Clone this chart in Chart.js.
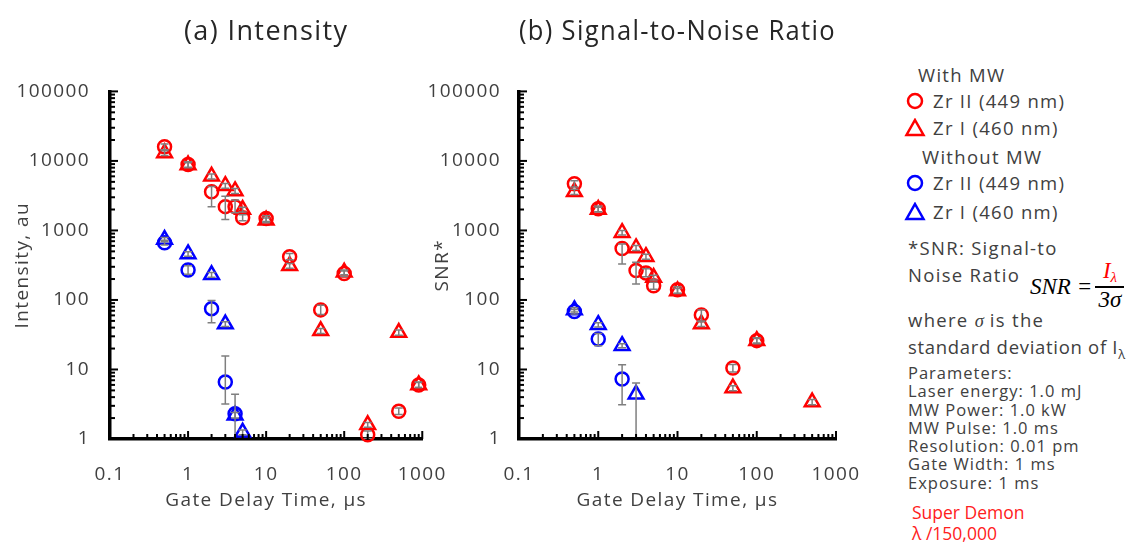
<!DOCTYPE html>
<html>
<head>
<meta charset="utf-8">
<script src="https://cdn.jsdelivr.net/npm/chart.js@4.4.0/dist/chart.umd.min.js"></script>
<style>
    body { margin: 0; background: #fff; width: 1139px; height: 542px; overflow: hidden; position: relative;
           font-family: "Open Sans", "Noto Sans", sans-serif; }
    canvas { position: absolute; top: 0; }
    #left { left: 0; }
    #right { left: 420px; }
    .t { position: absolute; color: #404040; font-size: 18.5px; line-height: 24px; height: 24px; white-space: nowrap; letter-spacing: 1.3px; }
    .mk { position: absolute; }
    .params { position: absolute; left: 908px; top: 364px; color: #404040; font-size: 16.5px; line-height: 18.3px; white-space: nowrap; letter-spacing: 1px; }
    .serif { font-family: "Liberation Serif", "DejaVu Serif", serif; font-style: italic; letter-spacing: 0; }
</style>
</head>
<body>
<canvas id="left" width="460" height="542"></canvas>
<canvas id="right" width="460" height="542"></canvas>

<!-- legend and notes on the right -->
<div class="t" style="left:918px;top:63px">With MW</div>
<svg class="mk" width="20" height="20" style="left:905px;top:91px"><circle cx="10" cy="10" r="7" fill="none" stroke="#ff0000" stroke-width="2.5"/></svg>
<div class="t" style="left:933px;top:89px">Zr II (449 nm)</div>
<svg class="mk" width="22" height="20" style="left:904px;top:118px"><polygon points="11,2 19.5,17 2.5,17" fill="none" stroke="#ff0000" stroke-width="2.5"/></svg>
<div class="t" style="left:933px;top:116px">Zr I (460 nm)</div>
<div class="t" style="left:922px;top:145px">Without MW</div>
<svg class="mk" width="20" height="20" style="left:905px;top:173px"><circle cx="10" cy="10" r="7" fill="none" stroke="#0000ff" stroke-width="2.5"/></svg>
<div class="t" style="left:933px;top:171px">Zr II (449 nm)</div>
<svg class="mk" width="22" height="20" style="left:904px;top:202px"><polygon points="11,2 19.5,17 2.5,17" fill="none" stroke="#0000ff" stroke-width="2.5"/></svg>
<div class="t" style="left:933px;top:200px">Zr I (460 nm)</div>

<div class="t" style="left:908px;top:236px">*SNR: Signal-to</div>
<div class="t" style="left:908px;top:263px">Noise Ratio</div>
<div class="t serif" style="left:1030px;top:274px;font-size:23px;line-height:26px;height:26px;color:#000">SNR =</div>
<div class="t serif" style="left:1095px;top:259px;width:30px;text-align:center;font-size:23px;color:#ff0000">I<span style="font-size:15px;position:relative;top:4px">λ</span></div>
<div style="position:absolute;left:1095px;top:286px;width:29px;height:1.5px;background:#000"></div>
<div class="t serif" style="left:1095px;top:288px;width:30px;text-align:center;font-size:23px;color:#000">3σ</div>
<div class="t" style="left:908px;top:308px">where <span class="serif">σ</span> is the</div>
<div class="t" style="left:908px;top:335px;letter-spacing:0.7px">standard deviation of I<span style="font-size:13px;position:relative;top:5px">λ</span></div>

<div class="params">Parameters:<br>Laser energy: 1.0 mJ<br>MW Power: 1.0 kW<br>MW Pulse: 1.0 ms<br>Resolution: 0.01 pm<br>Gate Width: 1 ms<br>Exposure: 1 ms</div>

<div class="t" style="left:912px;top:500px;color:#ff2020;font-size:17.5px;letter-spacing:0">Super Demon</div>
<div class="t" style="left:912px;top:521px;color:#ff2020;font-size:17.5px;letter-spacing:0">λ /150,000</div>

<script>
// axis ticks
const xTicks = [0.1, 1, 10, 100, 1000]
const yTicks = [1, 10, 100, 1000, 10000, 100000]

// (a) Intensity
const tIntRed = [0.5, 1, 2, 3, 4, 5, 10, 20, 50, 100, 200, 500, 900]
const intRedCircle = [16000, 8900, 3600, 2200, 2200, 1520, 1480, 420, 72, 240, 1.15, 2.5, 6]
const intRedCircleLo = [14500, 8100, 2200, 1440, 1800, 1380, 1350, 380, 62, 218, 1.02, 2.25, 5.5]
const intRedCircleHi = [17500, 9700, 4300, 3100, 2750, 1680, 1620, 465, 84, 262, 1.3, 2.8, 6.6]
const intRedTri = [13000, 8700, 6000, 4400, 3700, 2000, 1400, 310, 36, 250, 1.6, 34, 6]
const intRedTriLo = [12000, 8000, 5500, 4050, 3400, 1840, 1290, 285, 33, 230, 1.47, 31, 5.5]
const intRedTriHi = [14000, 9400, 6500, 4750, 4000, 2160, 1510, 335, 39, 270, 1.73, 37, 6.5]

const tIntBlueCircle = [0.5, 1, 2, 3, 4]
const intBlueCircle = [665, 270, 75, 6.6, 2.3]
const intBlueCircleLo = [615, 235, 47, 3.2, 0.5]
const intBlueCircleHi = [720, 310, 98, 15.6, 4.4]
const tIntBlueTri = [0.5, 1, 2, 3, 4, 5]
const intBlueTri = [740, 460, 230, 45, 2.2, 1.25]
const intBlueTriLo = [690, 425, 212, 41.5, 2.0, 1.15]
const intBlueTriHi = [790, 495, 248, 48.5, 2.4, 1.35]

// (b) SNR
const tSnrRedCircle = [0.5, 1, 2, 3, 4, 5, 10, 20, 50, 100]
const snrRedCircle = [4700, 2050, 550, 265, 245, 160, 140, 61, 10.5, 26]
const snrRedCircleLo = [4200, 1850, 330, 170, 215, 142, 125, 50, 9.2, 23.5]
const snrRedCircleHi = [5200, 2250, 640, 350, 280, 180, 155, 72, 11.8, 28.5]
const tSnrRedTri = [0.5, 1, 2, 3, 4, 5, 10, 20, 50, 100, 500]
const snrRedTri = [3600, 2000, 930, 560, 420, 210, 135, 45, 5.4, 26, 3.4]
const snrRedTriLo = [3300, 1850, 860, 515, 385, 193, 124, 41.5, 4.95, 24, 3.1]
const snrRedTriHi = [3900, 2150, 1000, 605, 455, 227, 146, 48.5, 5.85, 28, 3.7]

const tSnrBlueCircle = [0.5, 1, 2]
const snrBlueCircle = [68, 27.5, 7.3]
const snrBlueCircleLo = [63, 22, 3.1]
const snrBlueCircleHi = [73, 33, 11.7]
const tSnrBlueTri = [0.5, 1, 2, 3]
const snrBlueTri = [72, 44, 22, 4.4]
const snrBlueTriLo = [67, 41, 20.5, 0.5]
const snrBlueTriHi = [77, 47, 23.5, 6.4]

Chart.defaults.font.family = '"Open Sans", "Noto Sans", sans-serif'
Chart.defaults.color = '#404040'

// the original font is set wide, so space the canvas text out a little
const wideText = {
    id: 'wideText',
    beforeDraw(chart) {
        chart.ctx.letterSpacing = '1.4px'
    }
}

// gray error bars, drawn over the markers like the original
const errorBars = {
    id: 'errorBars',
    afterDatasetsDraw(chart) {
        var ctx = chart.ctx
        var a = chart.chartArea
        var xs = chart.scales.x, ys = chart.scales.y
        ctx.save()
        ctx.beginPath()
        ctx.rect(a.left, a.top - 20, a.right - a.left, a.bottom - a.top + 20)
        ctx.clip()
        ctx.strokeStyle = '#7f7f7f'
        ctx.lineWidth = 1.5
        for (let ds of chart.data.datasets) {
            for (var i = 0; i < ds.data.length; i++) {
                var x = xs.getPixelForValue(ds.data[i].x)
                var y1 = ys.getPixelForValue(ds.errLo[i])
                var y2 = ys.getPixelForValue(ds.errHi[i])
                ctx.beginPath()
                ctx.moveTo(x, y1); ctx.lineTo(x, y2)
                ctx.moveTo(x - 4, y1); ctx.lineTo(x + 4, y1)
                ctx.moveTo(x - 4, y2); ctx.lineTo(x + 4, y2)
                ctx.stroke()
            }
        }
        ctx.restore()
    }
}

// log tick marks pointing into the plot
const innerTicks = {
    id: 'innerTicks',
    afterDraw(chart) {
        var ctx = chart.ctx
        var a = chart.chartArea
        ctx.save()
        ctx.strokeStyle = '#000'
        ctx.lineWidth = 2
        for (let id of ['x', 'y']) {
            var s = chart.scales[id]
            var e0 = Math.round(Math.log10(s.min)), e1 = Math.round(Math.log10(s.max))
            for (var e = e0; e <= e1; e++) {
                for (var m = 1; m <= 9; m++) {
                    if (e == e1 && m > 1) break
                    var v = m * Math.pow(10, e)
                    var p = s.getPixelForValue(v)
                    var len = m == 1 ? 8 : 5
                    ctx.beginPath()
                    if (id == 'x') { ctx.moveTo(p, a.bottom); ctx.lineTo(p, a.bottom - len) }
                    else { ctx.moveTo(a.left, p); ctx.lineTo(a.left + len, p) }
                    ctx.stroke()
                }
            }
        }
        ctx.restore()
    }
}

function series(xs, ys, lo, hi, color, style) {
    return {
        data: xs.map((x, i) => ({x: x, y: ys[i]})),
        errLo: lo,
        errHi: hi,
        pointStyle: style,
        pointRadius: style == 'circle' ? 6.5 : 8.5,
        borderColor: color,
        backgroundColor: 'rgba(0,0,0,0)',
        borderWidth: 2.5,
        showLine: false,
        clip: false
    }
}

function makePanel(id, title, yTitle, yWidth, padRight, yTitlePad, tickPad, datasets) {
    return new Chart(document.getElementById(id), {
        type: 'scatter',
        data: {datasets: datasets},
        options: {
            responsive: false,
            animation: false,
            layout: {padding: {left: 0, right: padRight, top: 0, bottom: 0}},
            plugins: {
                legend: {display: false},
                tooltip: {enabled: false},
                title: {
                    display: true, text: title, fullSize: false,
                    color: '#262626', font: {size: 27, weight: 'normal'},
                    padding: {top: 16, bottom: 43}
                }
            },
            scales: {
                x: {
                    type: 'logarithmic', min: 0.1, max: 1000,
                    afterBuildTicks: s => { s.ticks = xTicks.map(v => ({value: v})) },
                    afterFit: s => { s.height = 103 },
                    ticks: {callback: v => String(v), font: {size: 19}, padding: 16, maxRotation: 0, autoSkip: false},
                    grid: {display: false},
                    border: {display: true, color: '#000', width: 3.5},
                    title: {display: true, text: 'Gate Delay Time, μs', font: {size: 19}, padding: {bottom: 30}}
                },
                y: {
                    type: 'logarithmic', min: 1, max: 100000,
                    afterBuildTicks: s => { s.ticks = yTicks.map(v => ({value: v})) },
                    afterFit: s => { s.width = yWidth },
                    ticks: {callback: v => String(v), font: {size: 19}, padding: tickPad, autoSkip: false},
                    grid: {display: false},
                    border: {display: true, color: '#000', width: 3.5},
                    title: {display: true, text: yTitle, font: {size: 19}, padding: {top: yTitlePad}}
                }
            }
        },
        plugins: [wideText, errorBars, innerTicks]
    })
}

makePanel('left', '(a) Intensity', 'Intensity, au', 110, 37, 11, 12, [
    series(tIntRed, intRedCircle, intRedCircleLo, intRedCircleHi, '#ff0000', 'circle'),
    series(tIntRed, intRedTri, intRedTriLo, intRedTriHi, '#ff0000', 'triangle'),
    series(tIntBlueCircle, intBlueCircle, intBlueCircleLo, intBlueCircleHi, '#0000ff', 'circle'),
    series(tIntBlueTri, intBlueTri, intBlueTriLo, intBlueTriHi, '#0000ff', 'triangle')
])

makePanel('right', '(b) Signal-to-Noise Ratio', 'SNR*', 99, 44, 11, 10, [
    series(tSnrRedCircle, snrRedCircle, snrRedCircleLo, snrRedCircleHi, '#ff0000', 'circle'),
    series(tSnrRedTri, snrRedTri, snrRedTriLo, snrRedTriHi, '#ff0000', 'triangle'),
    series(tSnrBlueCircle, snrBlueCircle, snrBlueCircleLo, snrBlueCircleHi, '#0000ff', 'circle'),
    series(tSnrBlueTri, snrBlueTri, snrBlueTriLo, snrBlueTriHi, '#0000ff', 'triangle')
])
</script>
</body>
</html>
